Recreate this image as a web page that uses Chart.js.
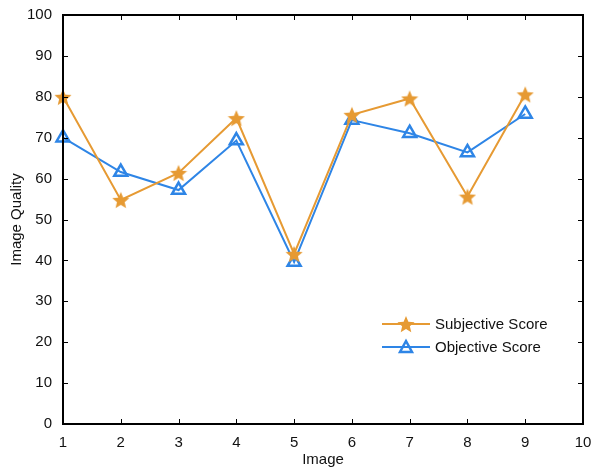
<!DOCTYPE html>
<html>
<head>
<meta charset="utf-8">
<script src="https://cdn.jsdelivr.net/npm/chart.js@4"></script>
<style>
  html, body { margin: 0; padding: 0; background: #fff; }
  #wrap { width: 595px; height: 469px; position: relative; }
</style>
</head>
<body>
<div id="wrap"><canvas id="chart"></canvas></div>
<script>
// --- data ---
const images = [1, 2, 3, 4, 5, 6, 7, 8, 9];
const subjectiveScore = [80, 54.8, 61.4, 74.8, 41.6, 75.6, 79.6, 55.6, 80.6];
const objectiveScore = [70, 61.6, 57.2, 69.3, 39.6, 74.3, 71.1, 66.4, 75.8];
const xTicks = [1, 2, 3, 4, 5, 6, 7, 8, 9, 10];
const yTicks = [0, 10, 20, 30, 40, 50, 60, 70, 80, 90, 100];

const ORANGE = '#E69A33';
const BLUE = '#2E85E6';
const FONT = '"Liberation Sans", Arial, sans-serif';

// five pointed star used as the marker
function makeStar(size, color) {
  const c = document.createElement('canvas');
  c.width = size; c.height = size;
  const g = c.getContext('2d');
  const cx = size / 2, cy = size / 2, R = size / 2, r = R * 0.45;
  g.beginPath();
  for (let i = 0; i < 10; i++) {
    const rad = i % 2 === 0 ? R : r;
    const a = -Math.PI / 2 + i * Math.PI / 5;
    const px = cx + rad * Math.cos(a), py = cy + rad * Math.sin(a) + 1;
    i === 0 ? g.moveTo(px, py) : g.lineTo(px, py);
  }
  g.closePath();
  g.fillStyle = color;
  g.fill();
  return c;
}
const star = makeStar(18, ORANGE);

// box + inward ticks + legend
const frame = {
  id: 'frame',
  afterDatasetsDraw(chart) {
    const { ctx, chartArea: a, scales } = chart;
    ctx.save();
    ctx.strokeStyle = '#000';
    ctx.lineWidth = 1;
    const t = 5;
    ctx.beginPath();
    xTicks.forEach(v => {
      const x = Math.round(scales.x.getPixelForValue(v)) + 0.5;
      ctx.moveTo(x, a.bottom); ctx.lineTo(x, a.bottom - t);
      ctx.moveTo(x, a.top); ctx.lineTo(x, a.top + t);
    });
    yTicks.forEach(v => {
      const y = Math.round(scales.y.getPixelForValue(v)) + 0.5;
      ctx.moveTo(a.left, y); ctx.lineTo(a.left + t, y);
      ctx.moveTo(a.right, y); ctx.lineTo(a.right - t, y);
    });
    ctx.stroke();
    ctx.lineWidth = 2;
    ctx.strokeRect(a.left, a.top, a.right - a.left, a.bottom - a.top);

    // legend
    const items = [
      { label: 'Subjective Score', color: ORANGE, marker: 'star' },
      { label: 'Objective Score', color: BLUE, marker: 'tri' }
    ];
    ctx.font = '15px ' + FONT;
    ctx.textBaseline = 'middle';
    items.forEach((it, i) => {
      const y = 324 + i * 23;
      ctx.strokeStyle = it.color;
      ctx.lineWidth = 2;
      ctx.beginPath(); ctx.moveTo(382, y); ctx.lineTo(430, y); ctx.stroke();
      if (it.marker === 'star') {
        ctx.drawImage(star, 406 - star.width / 2, y - star.height / 2);
      } else {
        ctx.lineWidth = 2.5;
        ctx.beginPath();
        ctx.moveTo(406, y - 6); ctx.lineTo(412, y + 5); ctx.lineTo(400, y + 5); ctx.closePath();
        ctx.stroke();
      }
      ctx.fillStyle = '#111';
      ctx.fillText(it.label, 435, y + 1);
    });
    ctx.restore();
  }
};

new Chart(document.getElementById('chart'), {
  type: 'line',
  data: {
    datasets: [
      {
        label: 'Subjective Score',
        data: images.map((x, i) => ({ x, y: subjectiveScore[i] })),
        borderColor: ORANGE, backgroundColor: ORANGE,
        borderWidth: 2, pointStyle: star, pointRadius: 9, clip: false, tension: 0
      },
      {
        label: 'Objective Score',
        data: images.map((x, i) => ({ x, y: objectiveScore[i] })),
        borderColor: BLUE, backgroundColor: 'rgba(0,0,0,0)',
        borderWidth: 2, pointStyle: 'triangle', pointRadius: 7.5, pointBorderWidth: 2.5,
        clip: false, tension: 0
      }
    ]
  },
  options: {
    responsive: true, maintainAspectRatio: false, animation: false,
    layout: { padding: { top: 15, right: 12, left: 0, bottom: 0 } },
    plugins: { legend: { display: false }, tooltip: { enabled: false } },
    scales: {
      x: {
        type: 'linear', min: 1, max: 10,
        afterBuildTicks: s => { s.ticks = xTicks.map(v => ({ value: v })); },
        afterFit: s => { s.height = 45; },
        grid: { display: false }, border: { display: false },
        ticks: { color: '#111', font: { family: FONT, size: 15 }, padding: 2, maxRotation: 0 },
        title: { display: true, text: 'Image', color: '#111', font: { family: FONT, size: 15 }, padding: { top: 0, bottom: 0 } }
      },
      y: {
        min: 0, max: 100,
        afterBuildTicks: s => { s.ticks = yTicks.map(v => ({ value: v })); },
        afterFit: s => { s.width = 63; },
        grid: { display: false }, border: { display: false },
        ticks: { color: '#111', font: { family: FONT, size: 15 }, padding: 3 },
        title: { display: true, text: 'Image Quality', color: '#111', font: { family: FONT, size: 15 }, padding: { top: 8, bottom: 4 } }
      }
    }
  },
  plugins: [frame]
});
</script>
</body>
</html>
